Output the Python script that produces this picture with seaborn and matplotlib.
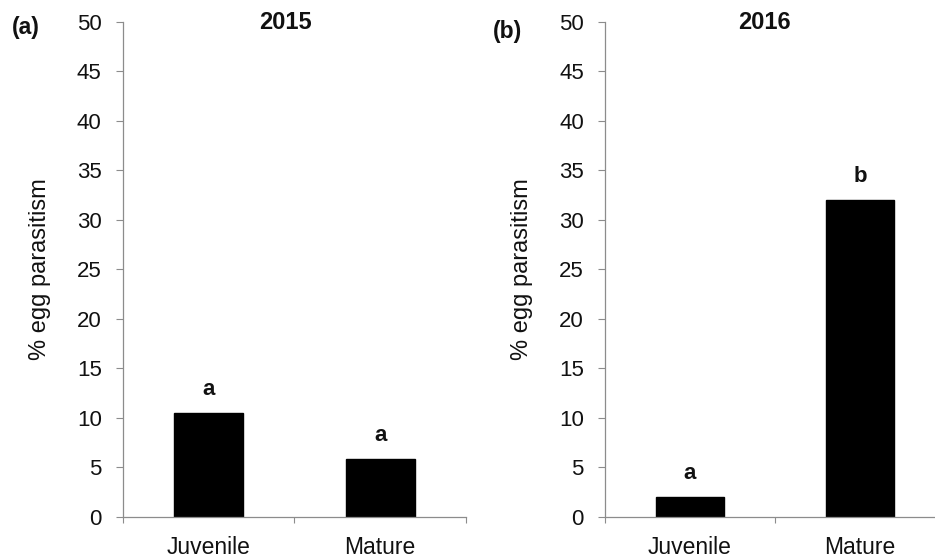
import matplotlib
matplotlib.use("Agg")
import matplotlib.pyplot as plt
import seaborn as sns
import pandas as pd

categories = ["Juvenile", "Mature"]
parasitism_2015 = [10.5, 5.9]
parasitism_2016 = [2.0, 32.0]
letters_2015 = ["a", "a"]
letters_2016 = ["a", "b"]
years = ["2015", "2016"]
panel_tags = ["(a)", "(b)"]
yticks = [0, 5, 10, 15, 20, 25, 30, 35, 40, 45, 50]

sns.set_style("white")
plt.rcParams["font.family"] = ["Liberation Sans", "DejaVu Sans"]

fig = plt.figure(figsize=(9.35, 5.58), dpi=100)
ax_a = fig.add_axes([0.13155, 0.0735, 0.36684, 0.8871])
ax_b = fig.add_axes([0.64706, 0.0735, 0.36364, 0.8871])

spine_col = "#8c8c8c"
text_col = "#111111"
panels = [
    (ax_a, parasitism_2015, letters_2015, years[0], panel_tags[0], 0.0278, 0.951, 0.475),
    (ax_b, parasitism_2016, letters_2016, years[1], panel_tags[1], 0.543, 0.943, 0.47),
]

for ax, values, letters, year, tag, tag_x, tag_y, title_x in panels:
    df = pd.DataFrame({"stage": categories, "pct": values})
    sns.barplot(data=df, x="stage", y="pct", color="black", width=0.4,
                saturation=1, edgecolor="black", ax=ax)
    ax.set_xlim(-0.5, 1.5)
    ax.set_ylim(0, 50)
    ax.set_yticks(yticks)
    ax.set_yticklabels([str(t) for t in yticks], fontsize=16, color=text_col)
    ax.tick_params(axis="y", which="major", direction="out", length=4.8,
                   width=0.8, color=spine_col, left=True, pad=10.5)
    ax.tick_params(axis="x", which="major", length=0, labelsize=16.5,
                   labelcolor=text_col, pad=14)
    ax.set_xticks([-0.5, 0.5, 1.5], minor=True)
    ax.tick_params(axis="x", which="minor", direction="out", length=4,
                   width=0.8, color=spine_col, bottom=True)
    for side in ("top", "right"):
        ax.spines[side].set_visible(False)
    for side in ("left", "bottom"):
        ax.spines[side].set_color(spine_col)
        ax.spines[side].set_linewidth(0.9)
    ax.set_xlabel("")
    ax.set_ylabel("% egg parasitism", fontsize=17, color=text_col)
    ax.yaxis.set_label_coords(-72 / (ax.get_position().width * 935), 0.5)
    ax.set_title(year, fontsize=17, fontweight="bold", color=text_col,
                 x=title_x, y=0.998, va="center", pad=0)
    for i, (v, lab) in enumerate(zip(values, letters)):
        ax.annotate(lab, xy=(i, v), xytext=(0, 13), textcoords="offset points",
                    ha="center", va="baseline", fontsize=16,
                    fontweight="bold", color=text_col)
    fig.text(tag_x, tag_y, tag, fontsize=16.5, fontweight="bold",
             color=text_col, ha="center", va="center")

fig.savefig("out.png", dpi=100)
